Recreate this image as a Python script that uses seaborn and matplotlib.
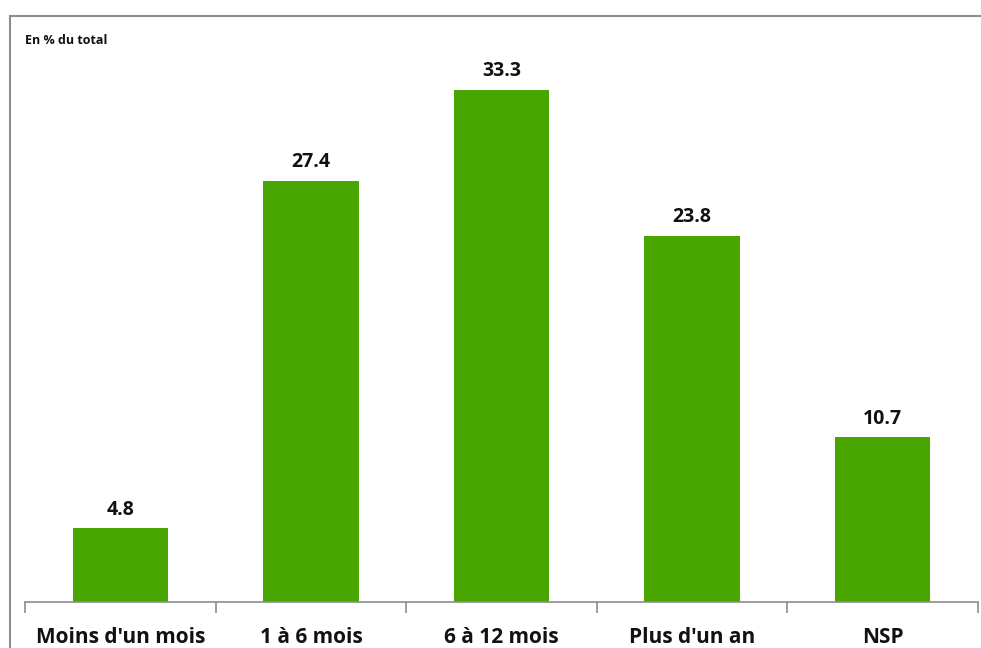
import matplotlib
matplotlib.use("Agg")
import matplotlib.pyplot as plt
from matplotlib.patches import Rectangle
import seaborn as sns
import pandas as pd

categories = ["Moins d'un mois", "1 à 6 mois", "6 à 12 mois", "Plus d'un an", "NSP"]
values = [4.8, 27.4, 33.3, 23.8, 10.7]
unit_label = "En % du total"

sns.set_theme(style="white")
plt.rcParams["font.family"] = ["Open Sans", "DejaVu Sans"]

W, H = 981, 648
fig = plt.figure(figsize=(W / 100, H / 100), dpi=100)

# outer chart frame (runs off the right and bottom edges)
fig.patches.append(Rectangle((10 / W, -0.2), 1.2, (H - 16) / H + 0.2,
                             transform=fig.transFigure, fill=False,
                             edgecolor="#8c8c8c", linewidth=1.5, zorder=0))

ymax = 35
ax = fig.add_axes([25 / W, (H - 602) / H, (978 - 25) / W, (602 - 63.6) / H])
df = pd.DataFrame({"cat": categories, "val": values})
sns.barplot(data=df, x="cat", y="val", color="#49a600", saturation=1,
            width=0.5, ax=ax)
for p in ax.patches:
    p.set_edgecolor("none")

ax.set_ylim(0, ymax)
ax.set_xlim(-0.5, len(categories) - 0.5)
ax.set_xlabel("")
ax.set_ylabel("")
ax.set_yticks([])
for s in ["top", "right", "left"]:
    ax.spines[s].set_visible(False)
ax.spines["bottom"].set_color("#8c8c8c")
ax.spines["bottom"].set_linewidth(1.2)

# tick marks at category boundaries, labels centred under bars
ax.set_xticks([i + 0.5 for i in range(-1, len(categories))], minor=False)
ax.set_xticklabels([])
ax.tick_params(axis="x", which="major", direction="out", length=8,
               width=1.2, color="#8c8c8c", bottom=True)
ax.set_xticks(range(len(categories)), minor=True)
ax.set_xticklabels(categories, minor=True, fontsize=15, fontweight="bold",
                   color="#111111")
ax.tick_params(axis="x", which="minor", length=0, pad=18)

for i, v in enumerate(values):
    ax.text(i, v + 0.55, f"{v:.1f}", ha="center", va="bottom",
            fontsize=14, fontweight="bold", color="#111111")

fig.text(25 / W, 1 - 40 / H, unit_label, ha="left", va="center",
         fontsize=9, fontweight="bold", color="#111111")

fig.savefig("out.png", dpi=100)
